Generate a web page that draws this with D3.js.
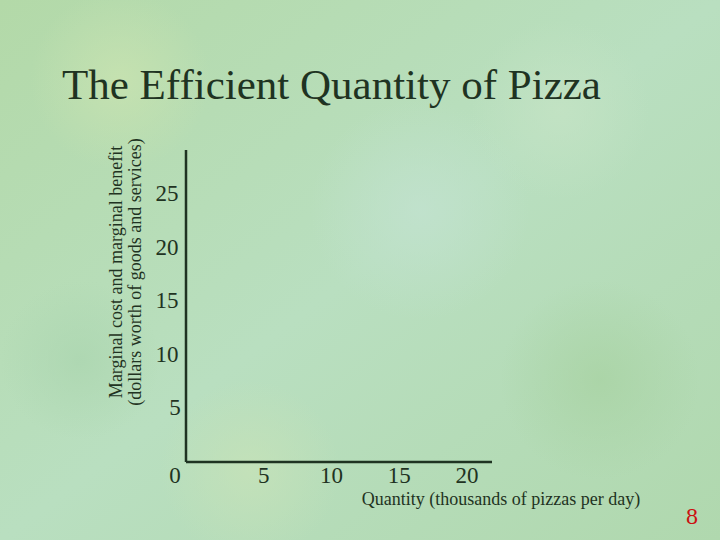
<!DOCTYPE html>
<html><head><meta charset="utf-8">
<script src="https://cdn.jsdelivr.net/npm/d3@7"></script>
<style>body{margin:0;}svg{display:block}</style>
</head><body>
<script>
const title = "The Efficient Quantity of Pizza";
const yTicks = [0, 5, 10, 15, 20, 25];
const xTicks = [0, 5, 10, 15, 20];
const yLabel1 = "Marginal cost and marginal benefit";
const yLabel2 = "(dollars worth of goods and services)";
const xLabel = "Quantity (thousands of pizzas per day)";
const pageNum = "8";

const W = 720, H = 540;
const svg = d3.select("body").append("svg").attr("width", W).attr("height", H);
const defs = svg.append("defs");
const bg = defs.append("linearGradient").attr("id","bg").attr("x1",0).attr("y1",0).attr("x2",1).attr("y2",1);
bg.append("stop").attr("offset","0%").attr("stop-color","#b3d9a8");
bg.append("stop").attr("offset","50%").attr("stop-color","#b9dfc0");
bg.append("stop").attr("offset","100%").attr("stop-color","#b0d8ae");
svg.append("rect").attr("width",W).attr("height",H).attr("fill","url(#bg)");
const blobs = [[120,80,90,"#c9e3b0"],[420,210,110,"#c2e2cf"],[600,380,100,"#a9d3a4"],[250,470,90,"#c6e2b8"],[80,360,80,"#acd6b0"],[560,110,90,"#c4e3c4"]];
blobs.forEach((b,i)=>{
  const g = defs.append("radialGradient").attr("id","b"+i);
  g.append("stop").attr("offset","0%").attr("stop-color",b[3]).attr("stop-opacity",0.8);
  g.append("stop").attr("offset","100%").attr("stop-color",b[3]).attr("stop-opacity",0);
  svg.append("circle").attr("cx",b[0]).attr("cy",b[1]).attr("r",b[2]).attr("fill","url(#b"+i+")");
});

const font = "'Liberation Serif', 'DejaVu Serif', serif";
const ink = "#1f3322";
svg.append("text").attr("x",62).attr("y",99).attr("font-family",font).attr("font-size",43)
  .attr("fill",ink).text(title);

const x = d3.scaleLinear().domain([0,20]).range([196,467]);
const y = d3.scaleLinear().domain([0,25]).range([461,193]);

svg.append("line").attr("x1",186).attr("x2",186).attr("y1",150).attr("y2",462).attr("stroke",ink).attr("stroke-width",2.5);
svg.append("line").attr("x1",186).attr("x2",492).attr("y1",462).attr("y2",462).attr("stroke",ink).attr("stroke-width",2.5);

svg.selectAll(".yt").data(yTicks.filter(d=>d>0)).join("text")
  .attr("x",d=>d<10?175:167).attr("y",d=>y(d)+8).attr("text-anchor","middle")
  .attr("font-family",font).attr("font-size",23).attr("fill",ink).text(d=>d);
svg.selectAll(".xt").data(xTicks).join("text")
  .attr("x",d=>d===0?175:x(d)).attr("y",462).attr("dy",21).attr("text-anchor","middle")
  .attr("font-family",font).attr("font-size",23).attr("fill",ink).text(d=>d);

const yl = svg.append("g").attr("transform","translate(0,272) rotate(-90)");
yl.append("text").attr("x",0).attr("y",122).attr("text-anchor","middle").attr("font-family",font)
  .attr("font-size",18).attr("fill",ink).text(yLabel1);
yl.append("text").attr("x",0).attr("y",141).attr("text-anchor","middle").attr("font-family",font)
  .attr("font-size",18).attr("fill",ink).text(yLabel2);

svg.append("text").attr("x",501).attr("y",505).attr("text-anchor","middle").attr("font-family",font)
  .attr("font-size",18).attr("fill",ink).text(xLabel);
svg.append("text").attr("x",692).attr("y",524).attr("text-anchor","middle").attr("font-family",font)
  .attr("font-size",24).attr("fill","#cc1111").text(pageNum);
</script>
</body></html>
